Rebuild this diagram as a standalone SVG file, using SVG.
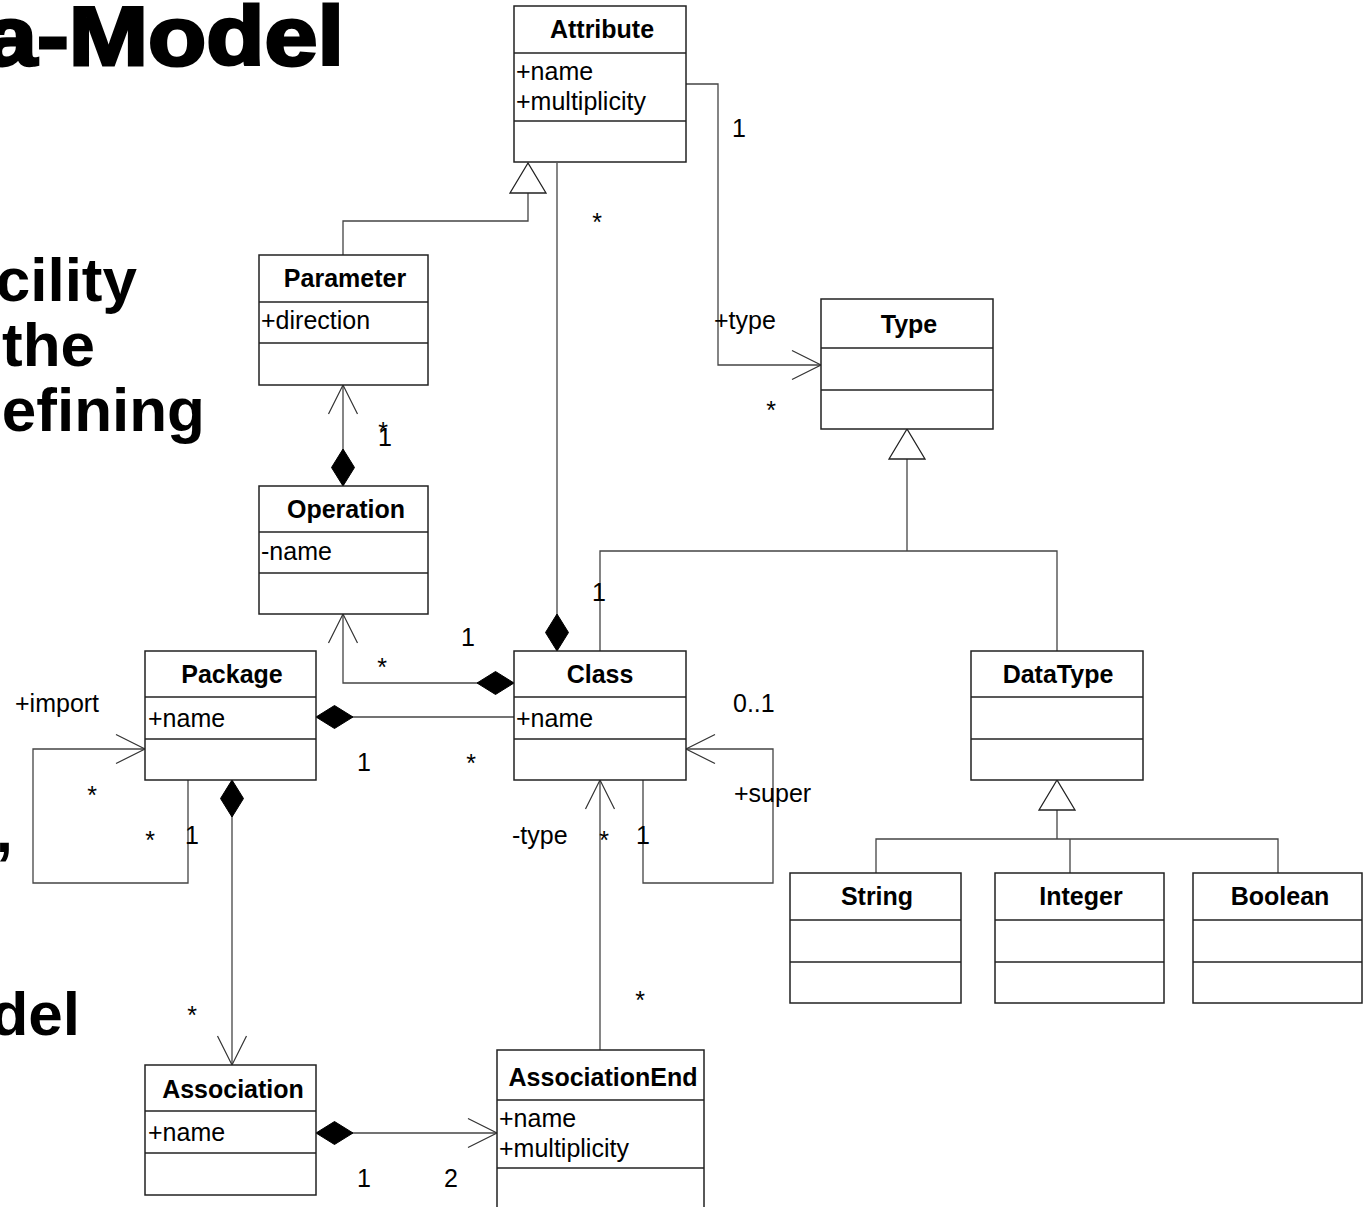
<svg xmlns="http://www.w3.org/2000/svg" width="1370" height="1207" viewBox="0 0 1370 1207">
  <style>
    .box{fill:#fff;stroke:#222;stroke-width:1.5}
    .div{stroke:#222;stroke-width:1.5}
    .cn{font-family:'Liberation Sans',Arial,sans-serif;font-weight:bold;font-size:25px;text-anchor:middle;fill:#000}
    .at{font-family:'Liberation Sans',Arial,sans-serif;font-size:25px;fill:#000}
    .lbl{font-family:'Liberation Sans',Arial,sans-serif;font-size:25px;fill:#000}
    .mid{text-anchor:middle}
    .edge{fill:none;stroke:#444;stroke-width:1.3}
    .slide{font-family:'Liberation Sans',Arial,sans-serif;font-weight:bold;fill:#000}
  </style>
  <defs>
    <!-- open navigability arrow -->
    <marker id="open" markerUnits="userSpaceOnUse" markerWidth="40" markerHeight="40" refX="0" refY="0" orient="auto" overflow="visible">
      <path d="M-29,-14.5 L0,0 L-29,14.5" fill="none" stroke="#333" stroke-width="1.2"/>
    </marker>
    <!-- composition diamond, placed at the path start -->
    <marker id="dia" markerUnits="userSpaceOnUse" markerWidth="40" markerHeight="40" refX="0" refY="0" orient="auto-start-reverse" overflow="visible">
      <path d="M0,0 L-18.5,-11.5 L-37,0 L-18.5,11.5 Z" fill="#000" stroke="#000" stroke-width="1"/>
    </marker>
    <!-- generalization triangle -->
    <marker id="gen" markerUnits="userSpaceOnUse" markerWidth="40" markerHeight="40" refX="0" refY="0" orient="auto" overflow="visible">
      <path d="M0,0 L-30,-18 L-30,18 Z" fill="#fff" stroke="#222" stroke-width="1.3"/>
    </marker>
  </defs>

  <rect width="1370" height="1207" fill="#fff"/>

  <!-- slide text behind the diagram -->
  <g id="slide-text" class="slide">
    <text x="-16" y="65" font-size="84" textLength="360" lengthAdjust="spacingAndGlyphs" stroke="#000" stroke-width="3">a-Model</text>
    <text x="137" y="301" font-size="62" text-anchor="end">cility</text>
    <text x="95" y="366" font-size="62" text-anchor="end">the</text>
    <text x="205" y="431" font-size="62" text-anchor="end">efining</text>
    <text x="13" y="852" font-size="62" text-anchor="end">,</text>
    <text x="80" y="1035" font-size="62" text-anchor="end">del</text>
  </g>

  <!-- connectors -->
  <g id="connectors">
    <path class="edge" d="M343,255 V221 H528 V163" marker-end="url(#gen)"/>
    <path class="edge" d="M686,84 H718 V365 H821" marker-end="url(#open)"/>
    <path class="edge" d="M557,651 V163" marker-start="url(#dia)"/>
    <path class="edge" d="M343,486 V385" marker-start="url(#dia)" marker-end="url(#open)"/>
    <path class="edge" d="M514,683 H343 V614" marker-start="url(#dia)" marker-end="url(#open)"/>
    <path class="edge" d="M316,717 H514" marker-start="url(#dia)"/>
    <path class="edge" d="M643,780 V883 H773 V749 H686" marker-end="url(#open)"/>
    <path class="edge" d="M1057,651 V551 H600 V651"/>
    <path class="edge" d="M907,551 V429" marker-end="url(#gen)"/>
    <path class="edge" d="M188,780 V883 H33 V749 H145" marker-end="url(#open)"/>
    <path class="edge" d="M232,780 V1065" marker-start="url(#dia)" marker-end="url(#open)"/>
    <path class="edge" d="M316,1133 H497" marker-start="url(#dia)" marker-end="url(#open)"/>
    <path class="edge" d="M600,1050 V780" marker-end="url(#open)"/>
    <path class="edge" d="M876,873 V839 H1278 V873 M1070,873 V839"/>
    <path class="edge" d="M1057,839 V780" marker-end="url(#gen)"/>

    <!-- multiplicities and role names -->
    <text class="lbl mid" x="739" y="137">1</text>
    <text class="lbl mid" x="597" y="231">*</text>
    <text class="lbl" x="714" y="329">+type</text>
    <text class="lbl mid" x="771" y="419">*</text>
    <text class="lbl mid" x="383" y="440">*</text>
    <text class="lbl mid" x="385" y="446">1</text>
    <text class="lbl mid" x="599" y="601">1</text>
    <text class="lbl mid" x="468" y="646">1</text>
    <text class="lbl mid" x="382" y="676">*</text>
    <text class="lbl" x="15" y="712">+import</text>
    <text class="lbl" x="733" y="712">0..1</text>
    <text class="lbl mid" x="364" y="771">1</text>
    <text class="lbl mid" x="471" y="772">*</text>
    <text class="lbl mid" x="92" y="804">*</text>
    <text class="lbl" x="734" y="802">+super</text>
    <text class="lbl mid" x="150" y="849">*</text>
    <text class="lbl mid" x="192" y="844">1</text>
    <text class="lbl" x="512" y="844">-type</text>
    <text class="lbl mid" x="604" y="849">*</text>
    <text class="lbl mid" x="643" y="844">1</text>
    <text class="lbl mid" x="640" y="1009">*</text>
    <text class="lbl mid" x="192" y="1024">*</text>
    <text class="lbl mid" x="364" y="1187">1</text>
    <text class="lbl mid" x="451" y="1187">2</text>
  </g>

  <!-- classes -->
  <g id="Attribute">
    <rect class="box" x="514" y="6" width="172" height="156"/>
    <line class="div" x1="514" y1="53" x2="686" y2="53"/>
    <line class="div" x1="514" y1="121" x2="686" y2="121"/>
    <text class="cn" x="602" y="38">Attribute</text>
    <text class="at" x="516" y="80">+name</text>
    <text class="at" x="516" y="110">+multiplicity</text>
  </g>

  <g id="Parameter">
    <rect class="box" x="259" y="255" width="169" height="130"/>
    <line class="div" x1="259" y1="302" x2="428" y2="302"/>
    <line class="div" x1="259" y1="343" x2="428" y2="343"/>
    <text class="cn" x="345" y="287">Parameter</text>
    <text class="at" x="261" y="329">+direction</text>
  </g>

  <g id="Operation">
    <rect class="box" x="259" y="486" width="169" height="128"/>
    <line class="div" x1="259" y1="532" x2="428" y2="532"/>
    <line class="div" x1="259" y1="573" x2="428" y2="573"/>
    <text class="cn" x="346" y="518">Operation</text>
    <text class="at" x="261" y="560">-name</text>
  </g>

  <g id="Package">
    <rect class="box" x="145" y="651" width="171" height="129"/>
    <line class="div" x1="145" y1="697" x2="316" y2="697"/>
    <line class="div" x1="145" y1="739" x2="316" y2="739"/>
    <text class="cn" x="232" y="683">Package</text>
    <text class="at" x="148" y="727">+name</text>
  </g>

  <g id="Class">
    <rect class="box" x="514" y="651" width="172" height="129"/>
    <line class="div" x1="514" y1="697" x2="686" y2="697"/>
    <line class="div" x1="514" y1="739" x2="686" y2="739"/>
    <text class="cn" x="600" y="683">Class</text>
    <text class="at" x="516" y="727">+name</text>
  </g>

  <g id="Type">
    <rect class="box" x="821" y="299" width="172" height="130"/>
    <line class="div" x1="821" y1="348" x2="993" y2="348"/>
    <line class="div" x1="821" y1="390" x2="993" y2="390"/>
    <text class="cn" x="909" y="333">Type</text>
  </g>

  <g id="DataType">
    <rect class="box" x="971" y="651" width="172" height="129"/>
    <line class="div" x1="971" y1="697" x2="1143" y2="697"/>
    <line class="div" x1="971" y1="739" x2="1143" y2="739"/>
    <text class="cn" x="1058" y="683">DataType</text>
  </g>

  <g id="String">
    <rect class="box" x="790" y="873" width="171" height="130"/>
    <line class="div" x1="790" y1="920" x2="961" y2="920"/>
    <line class="div" x1="790" y1="962" x2="961" y2="962"/>
    <text class="cn" x="877" y="905">String</text>
  </g>

  <g id="Integer">
    <rect class="box" x="995" y="873" width="169" height="130"/>
    <line class="div" x1="995" y1="920" x2="1164" y2="920"/>
    <line class="div" x1="995" y1="962" x2="1164" y2="962"/>
    <text class="cn" x="1081" y="905">Integer</text>
  </g>

  <g id="Boolean">
    <rect class="box" x="1193" y="873" width="169" height="130"/>
    <line class="div" x1="1193" y1="920" x2="1362" y2="920"/>
    <line class="div" x1="1193" y1="962" x2="1362" y2="962"/>
    <text class="cn" x="1280" y="905">Boolean</text>
  </g>

  <g id="Association">
    <rect class="box" x="145" y="1065" width="171" height="130"/>
    <line class="div" x1="145" y1="1111" x2="316" y2="1111"/>
    <line class="div" x1="145" y1="1153" x2="316" y2="1153"/>
    <text class="cn" x="233" y="1098">Association</text>
    <text class="at" x="148" y="1141">+name</text>
  </g>

  <g id="AssociationEnd">
    <rect class="box" x="497" y="1050" width="207" height="175"/>
    <line class="div" x1="497" y1="1100" x2="704" y2="1100"/>
    <line class="div" x1="497" y1="1168" x2="704" y2="1168"/>
    <text class="cn" x="603" y="1086">AssociationEnd</text>
    <text class="at" x="499" y="1127">+name</text>
    <text class="at" x="499" y="1157">+multiplicity</text>
  </g>
</svg>
